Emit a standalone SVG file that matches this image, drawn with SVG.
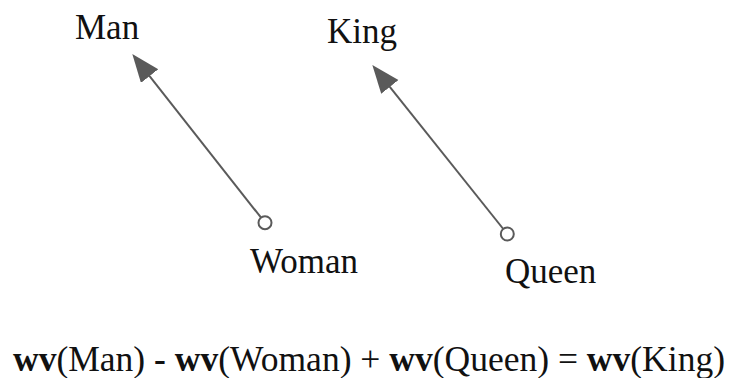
<svg xmlns="http://www.w3.org/2000/svg" width="734" height="378" viewBox="0 0 734 378">
<style>
.lbl{font-family:"Liberation Serif","Times New Roman",serif;font-size:35px;fill:#111}
.b{font-weight:bold}
.edge{stroke:#5a5a5a;stroke-width:2;fill:none}
.dot{fill:#fff;stroke:#5a5a5a;stroke-width:2}
</style>
<defs>
<marker id="ah" markerUnits="userSpaceOnUse" markerWidth="30" markerHeight="24" refX="1" refY="11" orient="auto" viewBox="0 0 30 24">
<path d="M0,0 L28,11 L0,22 z" fill="#5a5a5a"/>
</marker>
</defs>
<rect width="734" height="378" fill="#fff"/>
<g id="connectors">
<line class="edge" x1="265" y1="222.7" x2="149" y2="75.3" marker-end="url(#ah)"/>
<line class="edge" x1="507.3" y1="234" x2="389.2" y2="86.2" marker-end="url(#ah)"/>
<circle class="dot" cx="265" cy="222.7" r="6.5"/>
<circle class="dot" cx="507.3" cy="234" r="6.5"/>
</g>
<g id="man"><text class="lbl" x="75" y="38.5">Man</text></g>
<g id="king"><text class="lbl" x="327" y="43.3">King</text></g>
<g id="woman"><text class="lbl" x="250" y="273.3">Woman</text></g>
<g id="queen"><text class="lbl" x="505" y="283.3">Queen</text></g>
<g id="equation"><text class="lbl" x="13" y="370.5" textLength="712" lengthAdjust="spacingAndGlyphs"><tspan class="b">wv</tspan>(Man) <tspan class="b">-</tspan> <tspan class="b">wv</tspan>(Woman) + <tspan class="b">wv</tspan>(Queen) = <tspan class="b">wv</tspan>(King)</text></g>
</svg>
